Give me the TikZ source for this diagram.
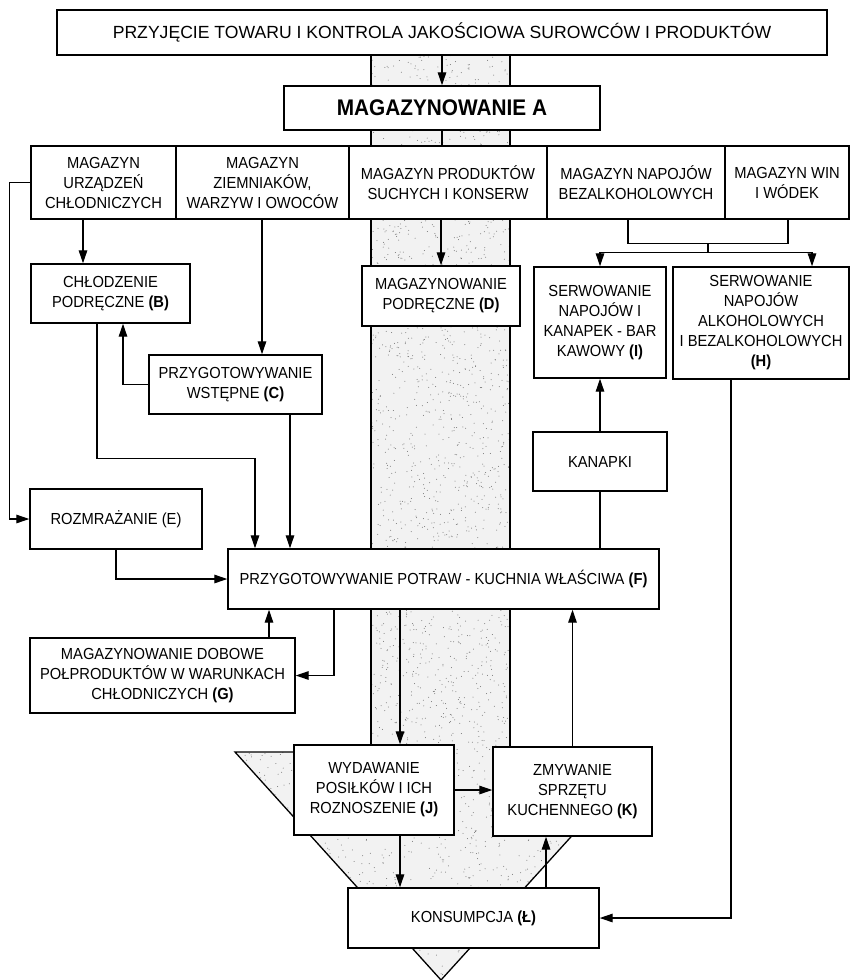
\documentclass[tikz,border=0pt]{standalone}
\usepackage{fontspec}
\setmainfont{Liberation Sans}
\newfontfamily\narrowsans[FakeStretch=0.92]{Liberation Sans}
\usetikzlibrary{arrows.meta,calc}

\tikzset{
  box/.style={draw, line width=1.4pt, fill=white, align=center, inner sep=0pt,
    font=\narrowsans\fontsize{16}{20}\selectfont},
  ln/.style={line width=1.3pt},
  arr/.style={line width=1.3pt, -{Triangle[length=13pt,width=8.5pt]}},
  stip/.style={fill=black!5},
  speck/.style={fill=black!55},
}

\begin{document}
\begin{tikzpicture}[x=1pt,y=-1pt]
\useasboundingbox (0,0) rectangle (849,980);

% stippled flow channel with the funnel at its foot
\def\channel{(371,55) -- (510,55) -- (510,752) -- (648,752) -- (441,980)
  -- (235,752) -- (371,752) -- cycle}
\fill[stip] \channel;
\begin{scope}
  \clip \channel;
  \pgfmathsetseed{4711}
  \foreach \i in {1,...,1800}
    \fill[speck] ({371+139*rnd},{55+697*rnd}) circle (0.5);
  \foreach \i in {1,...,1000}
    \fill[speck] ({235+413*rnd},{752+228*rnd}) circle (0.5);
\end{scope}
\draw[ln] (371,55) -- (371,752);
\draw[ln] (510,55) -- (510,752);
\draw[ln] (294,752) -- (235,752) -- (441,980) -- (648,752);

% boxes
\node[box, minimum width=770pt, minimum height=45pt,
  font=\fontsize{17.6}{22}\selectfont] (T) at (442,32.5)
  {PRZYJĘCIE TOWARU I KONTROLA JAKOŚCIOWA SUROWCÓW I PRODUKTÓW};
\node[box, minimum width=316pt, minimum height=44pt,
  font=\narrowsans\bfseries\fontsize{22.6}{26}\selectfont] (A) at (442,108)
  {MAGAZYNOWANIE A};

\node[box, minimum width=145pt, minimum height=73pt] (m1) at (103.5,182.5)
  {MAGAZYN\\URZĄDZEŃ\\CHŁODNICZYCH};
\node[box, minimum width=173pt, minimum height=73pt] (m2) at (262.5,182.5)
  {MAGAZYN\\ZIEMNIAKÓW,\\WARZYW I OWOCÓW};
\node[box, minimum width=198pt, minimum height=73pt] (m3) at (448,182.5)
  {MAGAZYN PRODUKTÓW\\SUCHYCH I KONSERW};
\node[box, minimum width=178pt, minimum height=73pt] (m4) at (636,182.5)
  {MAGAZYN NAPOJÓW\\BEZALKOHOLOWYCH};
\node[box, minimum width=124pt, minimum height=73pt] (m5) at (787,182.5)
  {MAGAZYN WIN\\I WÓDEK};

\node[box, minimum width=159pt, minimum height=59pt] (B) at (110.5,293.5)
  {CHŁODZENIE\\PODRĘCZNE \textbf{(B)}};
\node[box, minimum width=158pt, minimum height=60pt] (D) at (441,296)
  {MAGAZYNOWANIE\\PODRĘCZNE \textbf{(D)}};
\node[box, minimum width=132pt, minimum height=111pt] (I) at (600,322.5)
  {SERWOWANIE\\NAPOJÓW I\\KANAPEK - BAR\\KAWOWY \textbf{(I)}};
\node[box, minimum width=176pt, minimum height=112pt] (H) at (761,323)
  {SERWOWANIE\\NAPOJÓW\\ALKOHOLOWYCH\\I BEZALKOHOLOWYCH\\\textbf{(H)}};
\node[box, minimum width=173pt, minimum height=59pt] (C) at (235.5,384.5)
  {PRZYGOTOWYWANIE\\WSTĘPNE \textbf{(C)}};
\node[box, minimum width=134pt, minimum height=59pt] (Kan) at (600,461.5)
  {KANAPKI};
\node[box, minimum width=172pt, minimum height=60pt] (E) at (116,519)
  {ROZMRAŻANIE (E)};
\node[box, minimum width=431pt, minimum height=60pt] (F) at (443.5,579)
  {PRZYGOTOWYWANIE POTRAW - KUCHNIA WŁAŚCIWA \textbf{(F)}};
\node[box, minimum width=265pt, minimum height=75pt] (G) at (162.5,675.5)
  {MAGAZYNOWANIE DOBOWE\\POŁPRODUKTÓW W WARUNKACH\\CHŁODNICZYCH \textbf{(G)}};
\node[box, minimum width=160pt, minimum height=90pt] (J) at (374,790)
  {WYDAWANIE\\POSIŁKÓW I ICH\\ROZNOSZENIE \textbf{(J)}};
\node[box, minimum width=159pt, minimum height=89pt] (K) at (572.5,791.5)
  {ZMYWANIE\\SPRZĘTU\\KUCHENNEGO \textbf{(K)}};
\node[box, minimum width=251pt, minimum height=60pt] (L) at (473.5,918)
  {KONSUMPCJA \textbf{(Ł)}};

% connector end points offset from box centres
\coordinate (b_in)  at ([xshift=-27.5pt]B.north);
\coordinate (b_up)  at ([xshift=12.5pt]B.south);
\coordinate (b_out) at ([xshift=-13.5pt]B.south);
\coordinate (c_in)  at ([xshift=26.5pt]C.north);
\coordinate (c_out) at ([xshift=54.5pt]C.south);
\coordinate (f_in1) at ([xshift=-188.5pt]F.north);
\coordinate (g_up)  at ([xshift=106.5pt]G.north);
\coordinate (f_g)   at ([xshift=-109.5pt]F.south);
\coordinate (n1)    at ([xshift=-8pt]m4.south);
\coordinate (n2)    at ([xshift=1pt]m5.south);
\coordinate (h_in)  at ([xshift=51pt]H.north);
\coordinate (h_out) at ([xshift=-30pt]H.south);
\coordinate (f_j)   at ([xshift=-43.5pt]F.south);
\coordinate (j_l)   at ([xshift=26pt]J.south);
\coordinate (l_k)   at ([xshift=72.5pt]L.north);

% connectors
\draw[arr] (T.south) -- (A.north);
\draw[ln]  (A.south) -- (A.south |- m3.north);
\draw[arr] (D.north |- m3.south) -- (D.north);
\draw[arr] (b_in |- m1.south) -- (b_in);
\draw[arr] (c_in |- m2.south) -- (c_in);
\draw[arr] (C.west) -| (b_up);
\draw[arr] (b_out) -- ++(0,135) -| (f_in1);
\draw[arr] (c_out) -- (c_out |- F.north);
\draw[arr] (m1.west) -- ++(-21,0) |- (E.west);
\draw[arr] (E.south) |- (F.west);
\draw[arr] (g_up) -- (g_up |- F.south);
\draw[arr] (f_g) |- (G.east);
\draw[ln]  (Kan.south |- F.north) -- (Kan.south);
\draw[arr] (Kan.north) -- (I.south);
\draw[ln]  (n1) -- ++(0,24) coordinate (n1b) -| (n2);
\draw[ln]  ($(n1b)!0.5!(n1b -| n2)$) -- ++(0,9) coordinate (sp);
\draw[arr] (sp) -| (I.north);
\draw[arr] (sp) -| (h_in);
\draw[arr] (h_out) |- (L.east);
\draw[arr] (f_j) -- (f_j |- J.north);
\draw[arr] (J.east) -- (J.east -| K.west);
\draw[arr] (j_l) -- (j_l |- L.north);
\draw[arr] (l_k) -- (l_k |- K.south);
\draw[arr] (K.north) -- (K.north |- F.south);
\end{tikzpicture}
\end{document}
